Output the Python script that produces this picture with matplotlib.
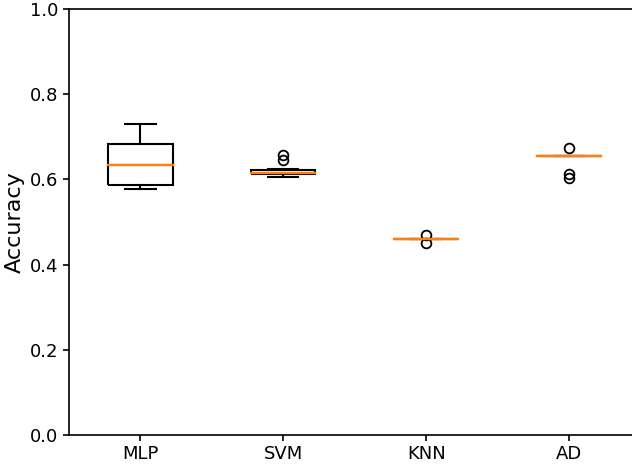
import matplotlib
matplotlib.use("Agg")
import matplotlib.pyplot as plt

labels = ["MLP", "SVM", "KNN", "AD"]
medians = [0.634, 0.614, 0.460, 0.655]
q1s = [0.586, 0.613, 0.460, 0.655]
q3s = [0.682, 0.622, 0.460, 0.655]
whislos = [0.577, 0.605, 0.460, 0.655]
whishis = [0.730, 0.624, 0.460, 0.655]
fliers = [[], [0.658, 0.645], [0.470, 0.451], [0.673, 0.612, 0.604]]

stats = []
for i in range(len(labels)):
    stats.append(dict(label=labels[i], med=medians[i], q1=q1s[i], q3=q3s[i],
                      whislo=whislos[i], whishi=whishis[i], fliers=fliers[i]))

fig = plt.figure(figsize=(6.32, 4.67), dpi=100)
ax = fig.add_axes([69/632, 1 - 435/467, (640.5 - 69)/632, (435 - 9)/467])
lw = 1.5
ax.bxp(stats, widths=0.45,
       boxprops=dict(linewidth=lw, color="black", solid_capstyle="butt",
                     solid_joinstyle="miter"),
       whiskerprops=dict(linewidth=lw, color="black"),
       capprops=dict(linewidth=lw, color="black", solid_capstyle="butt"),
       medianprops=dict(linewidth=lw + 0.2, color="#ff7f0e", zorder=3,
                        solid_capstyle="projecting"),
       flierprops=dict(marker="o", markersize=7, markerfacecolor="none",
                       markeredgecolor="black", markeredgewidth=1.3))
ax.set_xlim(0.5, 4.5)
ax.set_ylim(0.0, 1.0)
ax.set_yticks([0.0, 0.2, 0.4, 0.6, 0.8, 1.0])
for s in ax.spines.values():
    s.set_linewidth(1.2)
ax.spines["right"].set_visible(False)
ax.tick_params(axis="both", labelsize=13, width=1.2, length=4)
ax.set_ylabel("Accuracy", fontsize=16)
fig.savefig("out.png", dpi=100)
